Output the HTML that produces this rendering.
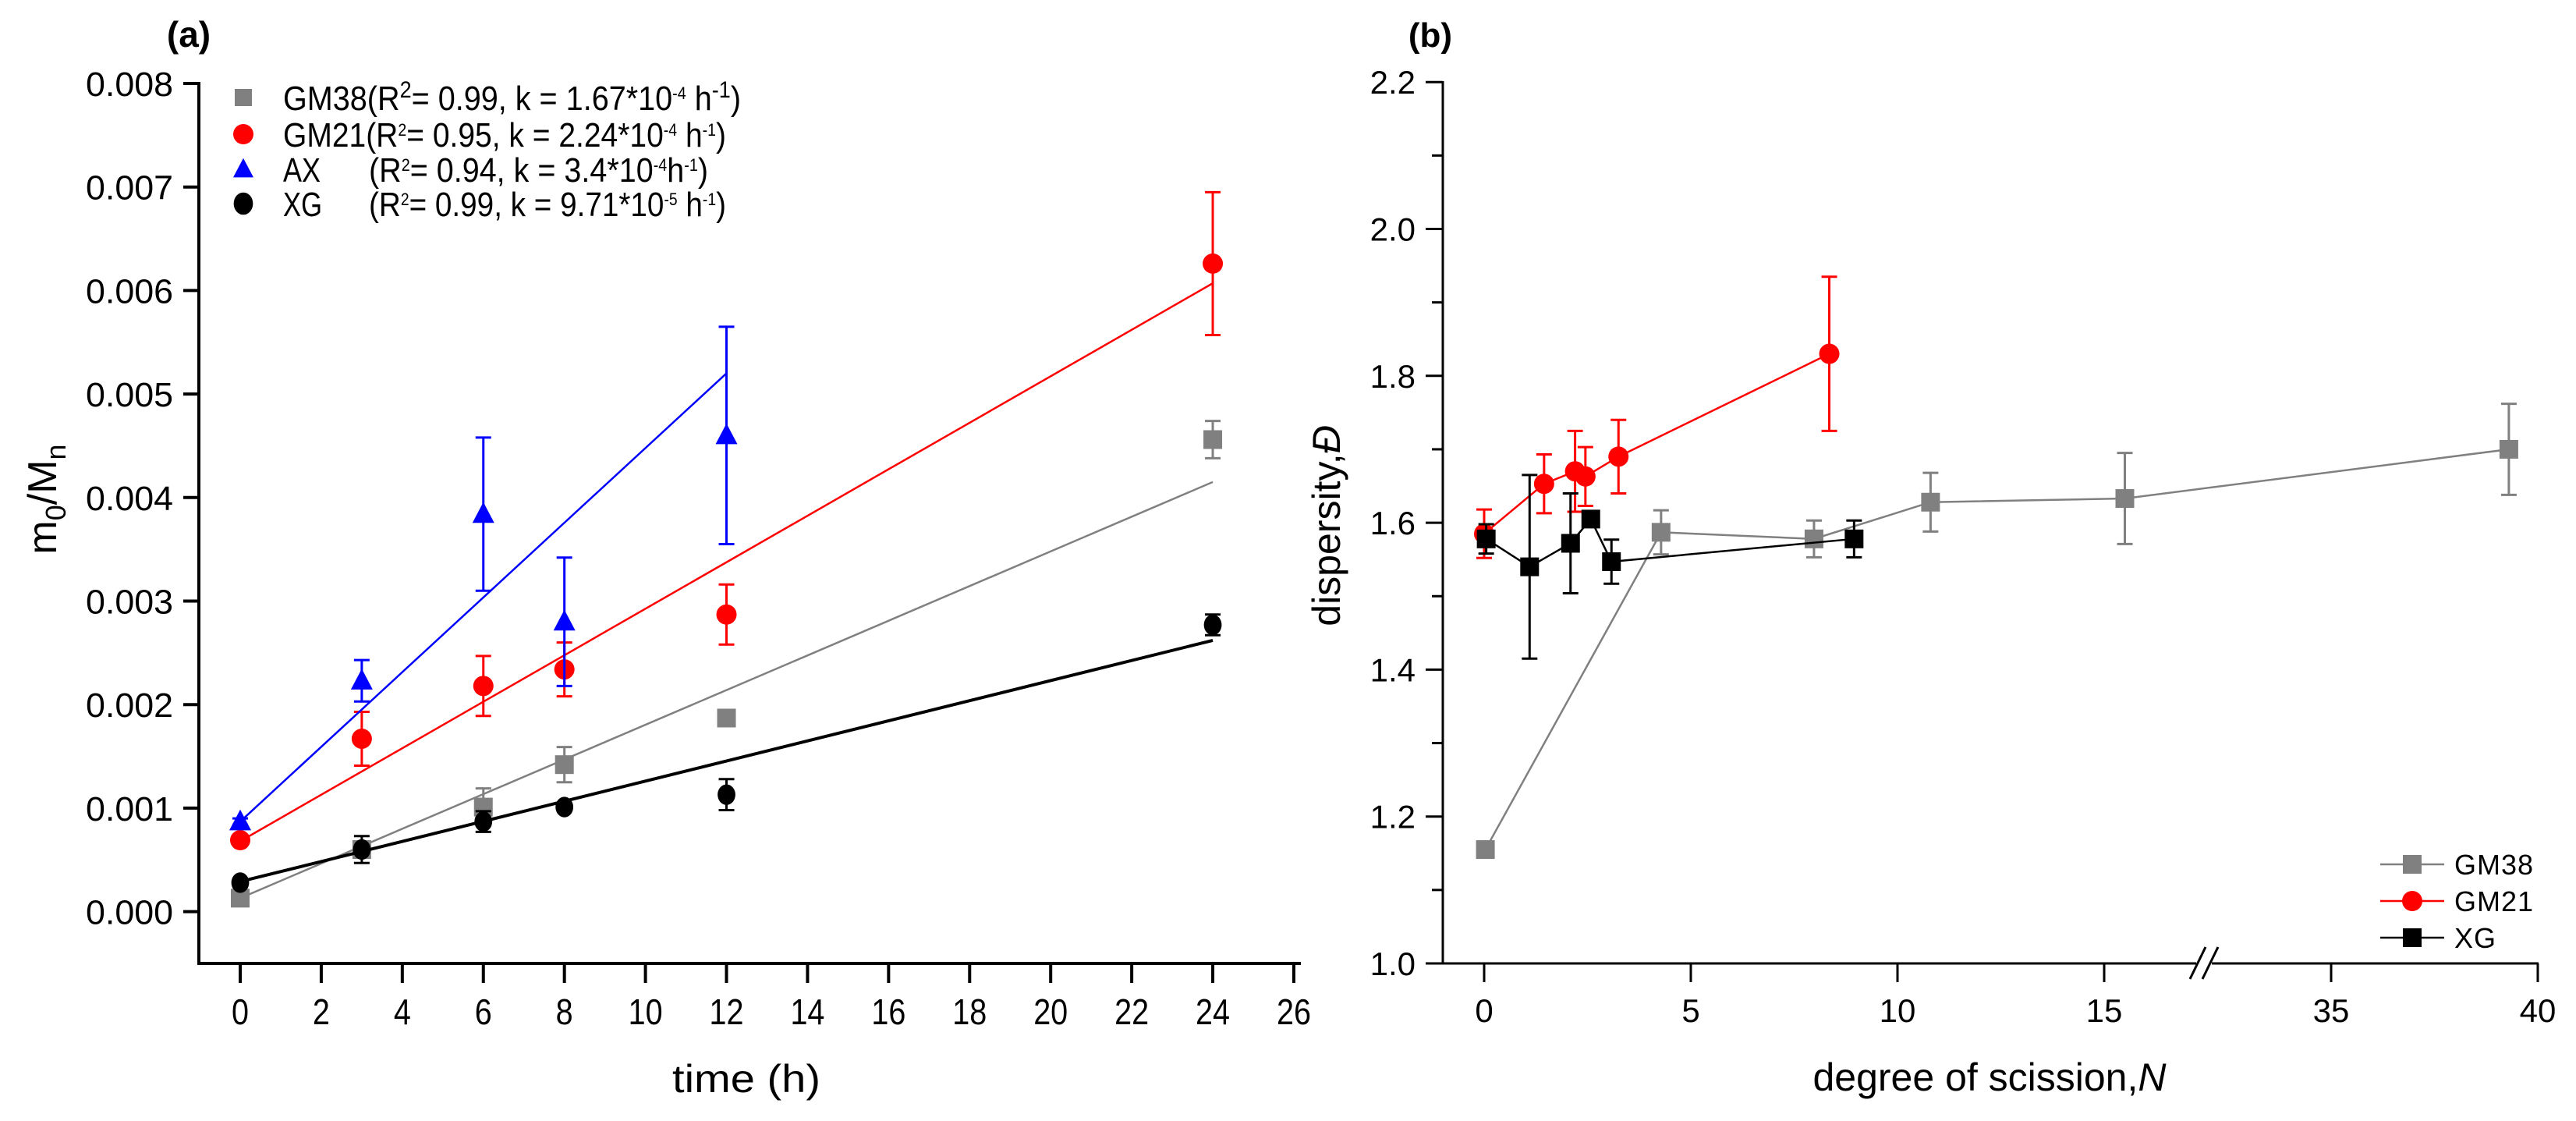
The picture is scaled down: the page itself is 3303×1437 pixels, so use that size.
<!DOCTYPE html>
<html><head><meta charset="utf-8"><style>
html,body{margin:0;padding:0;background:#fff}
svg{display:block}
text{font-family:"Liberation Sans",Arial,sans-serif}
</style></head><body>
<svg id="fig" width="3303" height="1437" viewBox="0 0 3303 1437" xmlns="http://www.w3.org/2000/svg">
<g id="pa"></g>
<g id="pb"></g>
</svg>
<script>
// ---------- Panel (a) data ----------
const aTicksX = [0,2,4,6,8,10,12,14,16,18,20,22,24,26];
const aTicksY = [0,0.001,0.002,0.003,0.004,0.005,0.006,0.007,0.008];
const aTickLabelsY = ["0.000","0.001","0.002","0.003","0.004","0.005","0.006","0.007","0.008"];
const gm38Time = [0,3,6,8,12,24];
const gm38Val = [0.00013,0.0006,0.00101,0.00142,0.00187,0.00456];
const gm38Err = [0.00003,0.00005,0.00018,0.00017,0.00005,0.00018];
const gm38Fit = [0.00013,0.00415];
const gm21Time = [0,3,6,8,12,24];
const gm21Val = [0.00069,0.00167,0.00218,0.00234,0.00287,0.00626];
const gm21Err = [0.00003,0.00026,0.00029,0.00026,0.00029,0.00069];
const gm21Fit = [0.00068,0.00607];
const axTime = [0,3,6,8,12];
const axVal = [0.00087,0.00223,0.00384,0.0028,0.0046];
const axErr = [0.00003,0.0002,0.00074,0.00062,0.00105];
const axFit = [0.00087,0.0052];
const axFitEnd = 12;
const xgTime = [0,3,6,8,12,24];
const xgVal = [0.00028,0.0006,0.00087,0.00101,0.00113,0.00277];
const xgErr = [0.00004,0.00013,0.0001,0.00003,0.00015,0.0001];
const xgFit = [0.00029,0.00262];

// ---------- Panel (b) data ----------
const bTicksX = [0,5,10,15,35,40];
const bTicksY = [1.0,1.2,1.4,1.6,1.8,2.0,2.2];
const bTickLabelsY = ["1.0","1.2","1.4","1.6","1.8","2.0","2.2"];
const bGm38N = [0.03,4.28,7.98,10.8,15.5,39.3];
const bGm38D = [1.155,1.587,1.578,1.628,1.633,1.70];
const bGm38E = [0.005,0.03,0.025,0.04,0.062,0.062];
const bGm21N = [0.0,1.45,2.2,2.45,3.25,8.35];
const bGm21D = [1.585,1.653,1.67,1.663,1.69,1.83];
const bGm21E = [0.033,0.04,0.055,0.04,0.05,0.105];
const bXgN = [0.05,1.1,2.09,2.58,3.08,8.95];
const bXgD = [1.578,1.54,1.572,1.605,1.547,1.578];
const bXgE = [0.02,0.125,0.068,0.005,0.03,0.025];

const NS="http://www.w3.org/2000/svg";
function mk(parent,tag,attrs,txt){const e=document.createElementNS(NS,tag);for(const k in attrs)e.setAttribute(k,attrs[k]);if(txt!==undefined)e.textContent=txt;parent.appendChild(e);return e;}

// axis functions panel a
const ax0=308, axPer=51.96, ay0=1168.6, ayPer=132700;
function xa(t){return ax0+t*axPer;}
function ya(v){return ay0-v*ayPer;}
// axis functions panel b
const bx0=1903, bPer=53, by0=1235, byPer=941.5;
function xb(n){return n<=24? bx0+n*bPer : 2989+(n-35)*bPer;}
function yb(d){return by0-(d-1.0)*byPer;}

function marker(g,shape,cx,cy,color,r){
  let e;
  if(shape==='sq') e=mk(g,'rect',{x:cx-r,y:cy-r,width:2*r,height:2*r,fill:color});
  else if(shape==='ci') e=mk(g,'circle',{cx:cx,cy:cy,r:r,fill:color});
  else if(shape==='tri') e=mk(g,'polygon',{points:`${cx},${cy-r*1.1} ${cx+r},${cy+r*0.8} ${cx-r},${cy+r*0.8}`,fill:color});
  else if(shape==='hex') e=mk(g,'ellipse',{cx:cx,cy:cy,rx:r*0.95,ry:r*1.1,fill:color});
  return e;
}
function errbar(g,x,y1,y2,color,w){
  mk(g,'line',{x1:x,y1:y1,x2:x,y2:y2,stroke:color,'stroke-width':3});
  mk(g,'line',{x1:x-w,y1:y1,x2:x+w,y2:y1,stroke:color,'stroke-width':3});
  mk(g,'line',{x1:x-w,y1:y2,x2:x+w,y2:y2,stroke:color,'stroke-width':3});
}

// ================= Panel A =================
const pa=document.getElementById('pa');
mk(pa,'text',{x:242,y:60,'font-size':46,'font-weight':'bold','text-anchor':'middle',},'(a)');
const aAxes=mk(pa,'g',{});
mk(aAxes,'line',{x1:255,y1:105,x2:255,y2:1237,stroke:'#000','stroke-width':4});
mk(aAxes,'line',{x1:253,y1:1235,x2:1668,y2:1235,stroke:'#000','stroke-width':4});
aTicksY.forEach((v,i)=>{
  const y=ya(v);
  mk(aAxes,'line',{x1:235,y1:y,x2:255,y2:y,stroke:'#000','stroke-width':4});
  const t=mk(aAxes,'text',{x:222,y:y+16,'font-size':44,'text-anchor':'end',textLength:112,lengthAdjust:'spacingAndGlyphs'},aTickLabelsY[i]);
  
  
});
aTicksX.forEach(v=>{
  const x=xa(v);
  mk(aAxes,'line',{x1:x,y1:1235,x2:x,y2:1260,stroke:'#000','stroke-width':4});
  const t=mk(aAxes,'text',{x:x,y:1313,'font-size':46,'text-anchor':'middle',textLength:String(v).length*22,lengthAdjust:'spacingAndGlyphs'},String(v));
  
  
});
mk(pa,'text',{x:957,y:1400,'font-size':50,'text-anchor':'middle',textLength:190,lengthAdjust:'spacingAndGlyphs',},'time (h)');
const yl=mk(pa,'text',{transform:'translate(72,640) rotate(-90)','font-size':52,'text-anchor':'middle',});
yl.innerHTML='m<tspan font-size="36" dy="12">0</tspan><tspan dy="-12">/M</tspan><tspan font-size="36" dy="12">n</tspan>';

const aSeries=[
  {name:'gm38',t:gm38Time,v:gm38Val,e:gm38Err,fit:gm38Fit,end:24,color:'#808080',shape:'sq',r:12},
  {name:'gm21',t:gm21Time,v:gm21Val,e:gm21Err,fit:gm21Fit,end:24,color:'#ff0000',shape:'ci',r:13},
  {name:'ax',t:axTime,v:axVal,e:axErr,fit:axFit,end:axFitEnd,color:'#0000ff',shape:'tri',r:14},
  {name:'xg',t:xgTime,v:xgVal,e:xgErr,fit:xgFit,end:24,color:'#000000',shape:'hex',r:12}
];
aSeries.forEach(s=>{
  const g=mk(pa,'g',{});
  
  
  const fl=mk(g,'line',{x1:xa(0),y1:ya(s.fit[0]),x2:xa(s.end),y2:ya(s.fit[1]),stroke:s.color,'stroke-width':s.name==='xg'?4:2.5});
  
  
  s.t.forEach((t,i)=>{
    errbar(g,xa(t),ya(s.v[i]+s.e[i]),ya(s.v[i]-s.e[i]),s.color,10);
    const m=marker(g,s.shape,xa(t),ya(s.v[i]),s.color,s.r);
    
    
  });
});
// legend a
const aLeg=mk(pa,'g',{});
const aLegRows=[
  {shape:'sq',color:'#808080',y:125,html:'GM38(R<tspan font-size="30" dy="-16">2</tspan><tspan dy="16">= 0.99, k = 1.67*10</tspan><tspan font-size="22" dy="-14">-4</tspan><tspan dy="14"> h</tspan><tspan font-size="30" dy="-16">-1</tspan><tspan dy="16">)</tspan>',len:587},
  {shape:'ci',color:'#ff0000',y:172,html:'GM21(R<tspan font-size="22" dy="-14">2</tspan><tspan dy="14">= 0.95, k = 2.24*10</tspan><tspan font-size="22" dy="-14">-4</tspan><tspan dy="14"> h</tspan><tspan font-size="22" dy="-14">-1</tspan><tspan dy="14">)</tspan>',len:568},
  {shape:'tri',color:'#0000ff',y:217,name:'AX',html:'(R<tspan font-size="22" dy="-14">2</tspan><tspan dy="14">= 0.94, k = 3.4*10</tspan><tspan font-size="22" dy="-14">-4</tspan><tspan dy="14">h</tspan><tspan font-size="22" dy="-14">-1</tspan><tspan dy="14">)</tspan>',len:435},
  {shape:'hex',color:'#000000',y:261,name:'XG',html:'(R<tspan font-size="22" dy="-14">2</tspan><tspan dy="14">= 0.99, k = 9.71*10</tspan><tspan font-size="22" dy="-14">-5</tspan><tspan dy="14"> h</tspan><tspan font-size="22" dy="-14">-1</tspan><tspan dy="14">)</tspan>',len:458}
];
aLegRows.forEach(r=>{
  const g=mk(aLeg,'g',{});
  
  
  marker(g,r.shape,312,r.y,r.color,r.shape==='sq'?11:13);
  if(r.name){
    mk(g,'text',{x:363,y:r.y+16,'font-size':44,textLength:r.name==='AX'?48:50,lengthAdjust:'spacingAndGlyphs'},r.name);
    const t=mk(g,'text',{x:473,y:r.y+16,'font-size':44,textLength:r.len,lengthAdjust:'spacingAndGlyphs'});
    t.innerHTML=r.html;
  } else {
    const t=mk(g,'text',{x:363,y:r.y+16,'font-size':44,textLength:r.len,lengthAdjust:'spacingAndGlyphs'});
    t.innerHTML=r.html;
  }
});

// ================= Panel B =================
const pb=document.getElementById('pb');
mk(pb,'text',{x:1834,y:60,'font-size':44,'font-weight':'bold','text-anchor':'middle',},'(b)');
const bAxes=mk(pb,'g',{});
mk(bAxes,'line',{x1:1850,y1:104,x2:1850,y2:1236,stroke:'#000','stroke-width':3});
mk(bAxes,'line',{x1:1849,y1:1235,x2:2816,y2:1235,stroke:'#000','stroke-width':3});
mk(bAxes,'line',{x1:2836,y1:1235,x2:3255,y2:1235,stroke:'#000','stroke-width':3});
mk(bAxes,'line',{x1:2808,y1:1255,x2:2828,y2:1214,stroke:'#000','stroke-width':3,});
mk(bAxes,'line',{x1:2824,y1:1255,x2:2844,y2:1214,stroke:'#000','stroke-width':3});
for(let k=0;k<=12;k++){
  const d=1.0+k*0.1, y=yb(d);
  mk(bAxes,'line',{x1:k%2===0?1828:1836,y1:y,x2:1850,y2:y,stroke:'#000','stroke-width':3});
}
bTicksY.forEach((d,i)=>{
  const t=mk(bAxes,'text',{x:1815,y:yb(d)+15,'font-size':42,'text-anchor':'end'},bTickLabelsY[i]);
  
  
});
bTicksX.forEach(n=>{
  const x=xb(n);
  mk(bAxes,'line',{x1:x,y1:1235,x2:x,y2:1259,stroke:'#000','stroke-width':3});
  const t=mk(bAxes,'text',{x:x,y:1310,'font-size':42,'text-anchor':'middle'},String(n));
  
  
});
const xt=mk(pb,'text',{x:2551,y:1398,'font-size':50,'text-anchor':'middle',});
xt.innerHTML='degree of scission,<tspan font-style="italic">N</tspan>';
const ytb=mk(pb,'text',{transform:'translate(1718,674) rotate(-90)','font-size':50,'text-anchor':'middle',});
ytb.innerHTML='dispersity,<tspan font-style="italic">Đ</tspan>';

const bSeries=[
  {name:'gm38',n:bGm38N,d:bGm38D,e:bGm38E,color:'#808080',shape:'sq',r:12},
  {name:'gm21',n:bGm21N,d:bGm21D,e:bGm21E,color:'#ff0000',shape:'ci',r:13},
  {name:'xg',n:bXgN,d:bXgD,e:bXgE,color:'#000000',shape:'sq',r:12}
];
bSeries.forEach(s=>{
  const g=mk(pb,'g',{});
  
  
  const pts=s.n.map((n,i)=>xb(n)+','+yb(s.d[i])).join(' ');
  const pl=mk(g,'polyline',{points:pts,fill:'none',stroke:s.color,'stroke-width':2.5});
  
  
  s.n.forEach((n,i)=>{
    errbar(g,xb(n),yb(s.d[i]+s.e[i]),yb(s.d[i]-s.e[i]),s.color,10);
    const m=marker(g,s.shape,xb(n),yb(s.d[i]),s.color,s.r);
    
    
  });
});
const bLeg=mk(pb,'g',{});
[{t:'GM38',c:'#808080',s:'sq',y:1108},{t:'GM21',c:'#ff0000',s:'ci',y:1155},{t:'XG',c:'#000000',s:'sq',y:1202}].forEach(r=>{
  const g=mk(bLeg,'g',{});
  
  
  mk(g,'line',{x1:3052,y1:r.y,x2:3134,y2:r.y,stroke:r.c,'stroke-width':2.5});
  marker(g,r.s,3093,r.y,r.c,r.s==='sq'?12:13);
  mk(g,'text',{x:3147,y:r.y+13,'font-size':36,'letter-spacing':'1'},r.t);
});
</script>
</body></html>
